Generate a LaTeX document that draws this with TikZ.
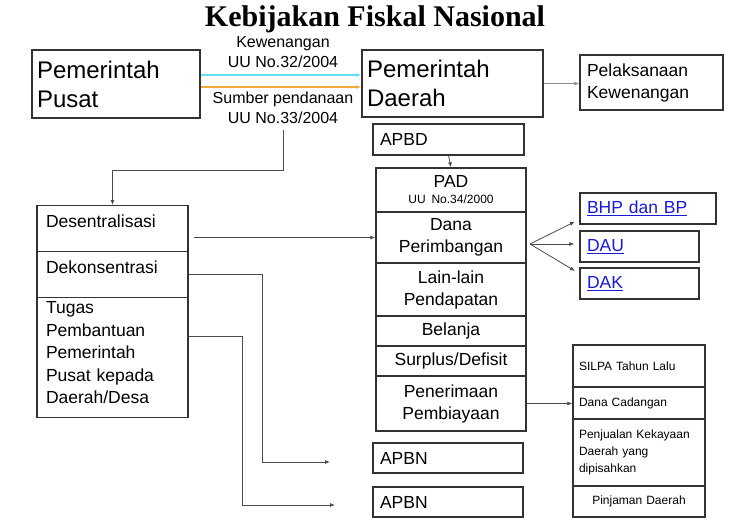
\documentclass[tikz,border=0pt]{standalone}
\usepackage{fontspec}
\setmainfont{Liberation Sans}
\newfontfamily\titlefont{Liberation Serif}
\usetikzlibrary{arrows.meta}
\definecolor{linkblue}{RGB}{25,25,215}
\definecolor{kewcyan}{RGB}{100,225,240}
\definecolor{danaorange}{RGB}{245,170,60}

\begin{document}
\begin{tikzpicture}[x=1pt,y=-1pt,
    box/.style={draw=black!80,line width=1.4pt,inner ysep=0pt},
    big/.style={font=\fontsize{24}{29}\selectfont},
    mid/.style={font=\fontsize{17.5}{22}\selectfont},
    small/.style={font=\fontsize{12}{17}\selectfont},
    lbl/.style={font=\fontsize{16}{20}\selectfont,inner sep=0pt,align=center},
    conn/.style={draw=black!70,line width=0.8pt,-{Latex[length=5pt,width=4pt]}},
    thick conn/.style={conn,draw=black!45,line width=1.8pt}]
    \useasboundingbox (0,0) rectangle (750,522);
    \node[font=\titlefont\bfseries\fontsize{30}{36}\selectfont,anchor=base] (title) at (375,27) {Kebijakan Fiskal Nasional};
    \node[box,big,align=left,text width=158pt,inner xsep=5pt,minimum height=68pt] (pusat) at (116,84) {Pemerintah\\Pusat};
    \node[box,big,align=left,text width=171pt,inner xsep=5pt,minimum height=67pt] (daerah) at (452.5,83.5) {Pemerintah\\Daerah};
    \node[box,mid,align=left,text width=129pt,inner xsep=7pt,minimum height=55pt] (pelaksanaan) at (651.5,82.5) {Pelaksanaan\\Kewenangan};
    \node[lbl] (kewlabel) at (283,52) {Kewenangan\\UU No.32/2004};
    \node[lbl] (danalabel) at (283,108) {Sumber pendanaan\\UU No.33/2004};
    \node[box,mid,align=left,text width=137pt,inner xsep=7pt,minimum height=31pt] (apbd) at (448.5,139.5) {APBD};
    \node[box,mid,align=center,text width=140pt,inner xsep=5pt,minimum height=44pt] (pad) at (451,190) {PAD\\[-6pt]{\fontsize{12}{14}\selectfont UU No.34/2000}};
    \node[box,mid,align=center,text width=140pt,inner xsep=5pt,minimum height=51pt] (dana) at (451,237.5) {Dana\\Perimbangan};
    \node[box,mid,align=center,text width=140pt,inner xsep=5pt,minimum height=53pt] (lain) at (451,289.5) {Lain-lain\\Pendapatan};
    \node[box,mid,align=center,text width=140pt,inner xsep=5pt,minimum height=30pt] (belanja) at (451,331) {Belanja};
    \node[box,mid,align=center,text width=140pt,inner xsep=5pt,minimum height=30pt] (surplus) at (451,361) {Surplus/Defisit};
    \node[box,mid,align=center,text width=140pt,inner xsep=5pt,minimum height=55pt] (penerimaan) at (451,403.5) {Penerimaan\\Pembiayaan};
    \node[box,mid,align=left,text width=133pt,inner xsep=9pt,text height=22pt,text depth=24pt,anchor=north] (desen) at (112.5,205) {Desentralisasi};
    \node[box,mid,align=left,text width=133pt,inner xsep=9pt,text height=22pt,text depth=24pt,anchor=north] (dekon) at (112.5,251) {Dekonsentrasi};
    \node[box,font=\fontsize{17.5}{22.5}\selectfont,align=left,text width=133pt,inner xsep=9pt,text height=16pt,text depth=104pt,anchor=north] (tugas) at (112.5,297) {Tugas\\Pembantuan\\Pemerintah\\Pusat kepada\\Daerah/Desa};
    \node[box,mid,align=left,text width=122pt,inner xsep=7pt,minimum height=31pt,text=linkblue] (bhp) at (648,208.5) {\underline{BHP dan BP}};
    \node[box,mid,align=left,text width=105pt,inner xsep=7pt,minimum height=31pt,text=linkblue] (dau) at (639.5,246.5) {\underline{DAU}};
    \node[box,mid,align=left,text width=105pt,inner xsep=7pt,minimum height=31pt,text=linkblue] (dak) at (639.5,283.5) {\underline{DAK}};
    \node[box,small,align=left,text width=120pt,inner xsep=6pt,minimum height=42pt] (silpa) at (639,366) {SILPA Tahun Lalu};
    \node[box,small,align=left,text width=120pt,inner xsep=6pt,minimum height=32pt] (cadangan) at (639,403) {Dana Cadangan};
    \node[box,small,align=left,text width=120pt,inner xsep=6pt,minimum height=67pt] (penjualan) at (639,452.5) {Penjualan Kekayaan\\Daerah yang\\dipisahkan};
    \node[box,small,align=center,text width=120pt,inner xsep=6pt,minimum height=31pt] (pinjaman) at (639,501.5) {Pinjaman Daerah};
    \node[box,mid,align=left,text width=136pt,inner xsep=7pt,minimum height=30pt] (apbn1) at (448,458) {APBN};
    \node[box,mid,align=left,text width=136pt,inner xsep=7pt,minimum height=30pt] (apbn2) at (448,502) {APBN};
    \coordinate (fan) at (530,244);
    \coordinate (apbnin1) at (330,462);
    \coordinate (apbnin2) at (335,505);
    \draw[conn,draw=kewcyan,line width=2.4pt] ([yshift=9pt]pusat.east) -- ([yshift=9pt]pusat.east -| daerah.west);
    \draw[conn,draw=danaorange,line width=2.4pt] ([yshift=-3pt]pusat.east) -- ([yshift=-3pt]pusat.east -| daerah.west);
    \draw[thick conn] (daerah.east) -- (daerah.east -| pelaksanaan.west);
    \draw[conn,shorten <=6pt] (danalabel.south) -- (danalabel.south |- 0,170) -| (desen.north);
    \draw[conn] (apbd.south) -- (pad.north);
    \draw[conn,shorten <=5pt] (desen.east |- dana.west) -- (dana.west);
    \draw[conn,shorten >=5pt] (fan) -- ([yshift=-11pt]bhp.west);
    \draw[conn,shorten >=5pt] (fan) -- ([yshift=2.5pt]dau.west);
    \draw[conn,shorten >=5pt] (fan) -- ([yshift=10pt]dak.west);
    \draw[conn] (penerimaan.east) -- (penerimaan.east -| cadangan.west);
    \draw[conn] (dekon.east) -- ++(74,0) |- (apbnin1);
    \draw[conn] (tugas.east |- 0,336) -- ++(54,0) |- (apbnin2);
\end{tikzpicture}
\end{document}
